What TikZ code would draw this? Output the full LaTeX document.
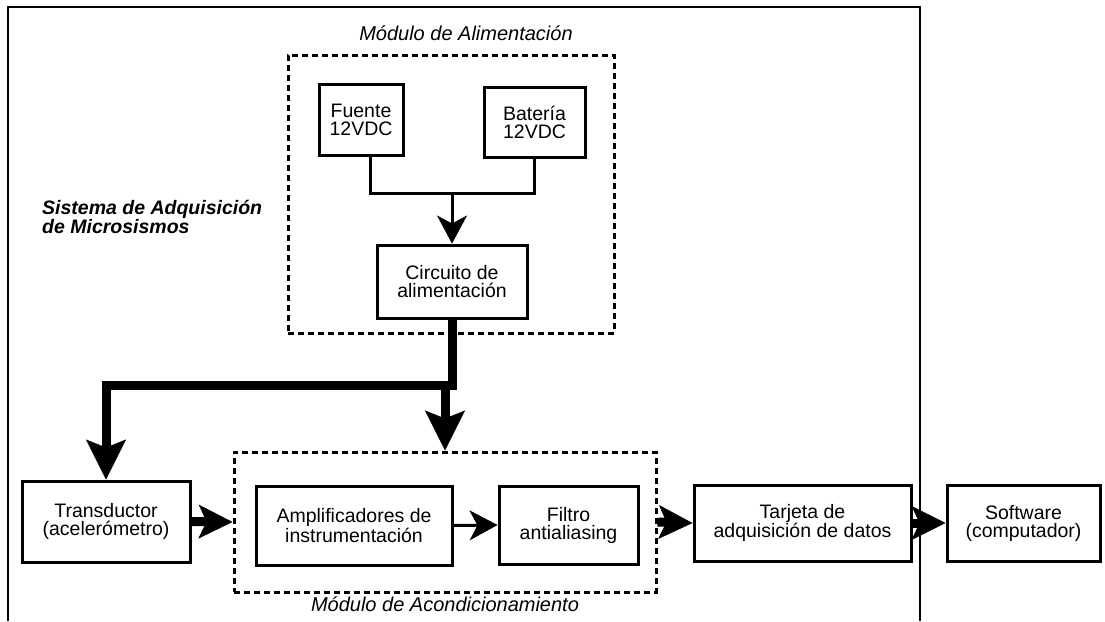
\documentclass[tikz,border=0pt]{standalone}
\usepackage{fontspec}
\setmainfont{Liberation Sans}
\usetikzlibrary{arrows.meta}

\begin{document}
\begin{tikzpicture}[x=1pt,y=-1pt,
    every node/.style={font=\fontsize{19.5}{18}\selectfont},
    bloque/.style={draw,line width=3pt,align=center,inner sep=0pt},
    modulo/.style={draw,line width=3pt,dash pattern=on 6pt off 4pt,inner sep=0pt},
    titulo/.style={font=\fontsize{20}{18}\selectfont\itshape},
    flecha/.style={line width=3pt,-{Stealth[length=28pt,width=30pt,inset=8pt,line width=0.5pt]}},
    gruesa/.style={line width=9pt,-{Stealth[length=#1,width=#1,inset=8pt,line width=0.5pt]}},
    gruesa/.default=34pt]
    \useasboundingbox (0,0) rectangle (1105,621);
    % Sistema (marco abierto abajo)
    \draw[line width=2pt] (8,621) -- (8,7) -- (920,7) -- (920,621);
    \node[font=\fontsize{19.5}{18}\selectfont\bfseries\itshape,align=left,
      anchor=west,inner sep=0pt] (sistema) at (42,217)
      {Sistema de Adquisición\\de Microsismos};
    % Modulo de alimentacion
    \node[modulo,minimum width=326pt,minimum height=278pt] (alim) at (451,194) {};
    \node[titulo] (tit alim) at (466,33) {Módulo de Alimentación};
    \node[bloque,minimum width=84pt,minimum height=71pt] (fuente) at (361,119.5)
      {Fuente\\12VDC};
    \node[bloque,minimum width=101pt,minimum height=70pt] (bateria) at (534.5,122)
      {Batería\\12VDC};
    \node[bloque,minimum width=150pt,minimum height=73pt] (circuito) at (452,281.5)
      {Circuito de\\alimentación};
    % Modulo de acondicionamiento
    \node[modulo,minimum width=422pt,minimum height=140pt] (acond) at (445,522) {};
    \node[titulo] (tit acond) at (445,604) {Módulo de Acondicionamiento};
    \node[bloque,minimum width=196pt,minimum height=79pt] (amplif) at (354,525.5)
      {Amplificadores de\\instrumentación};
    \node[bloque,minimum width=139pt,minimum height=78pt] (filtro) at (568.5,525)
      {Filtro\\antialiasing};
    % Resto de la cadena
    \node[bloque,minimum width=168pt,minimum height=81pt] (transductor) at (106,521.5)
      {Transductor\\(acelerómetro)};
    \node[bloque,minimum width=217pt,minimum height=76pt] (tarjeta) at (802.5,523)
      {Tarjeta de\\adquisición de datos};
    \node[bloque,minimum width=153pt,minimum height=76pt] (software) at (1023.5,523)
      {Software\\(computador)};
    % Conexiones de alimentacion
    \coordinate (union) at (452,193);
    \draw[line width=3pt] ([xshift=9pt]fuente.south) |- (union) -| (bateria.south);
    \draw[flecha] (union) -- (circuito.north);
    \coordinate (ramal) at (445,385);
    \draw[gruesa=40pt] (circuito.south) -- (circuito.south |- ramal) -| (transductor.north);
    \draw[gruesa=40pt] (ramal) -- (acond.north);
    % Flujo de la senal
    \draw[gruesa] (transductor.east) -- (acond.west);
    \draw[flecha] (amplif.east) -- (filtro.west);
    \draw[gruesa] (acond.east) -- (tarjeta.west);
    \draw[gruesa] (tarjeta.east) -- (software.west);
\end{tikzpicture}
\end{document}
